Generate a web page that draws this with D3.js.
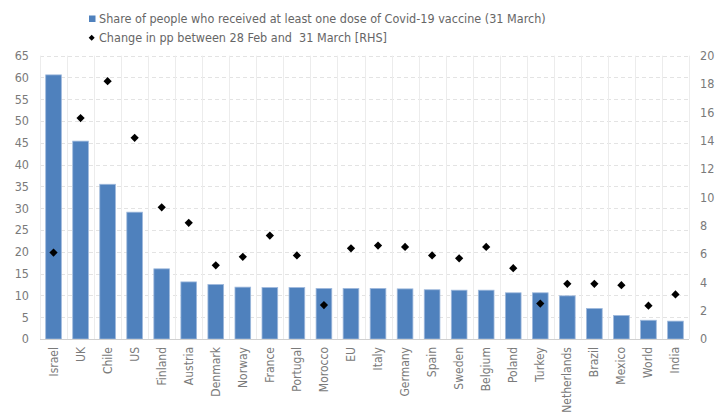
<!DOCTYPE html>
<html>
<head>
<meta charset="utf-8">
<script src="https://cdn.jsdelivr.net/npm/d3@7/dist/d3.min.js"></script>
<style>
  html, body { margin: 0; padding: 0; background: #fff; }
  svg { display: block; }
  text { font-family: "Liberation Sans Narrow", "DejaVu Sans Condensed", "Open Sans", sans-serif; fill: #7a7a7a; white-space: pre; }
  text.lg { fill: #666; }
</style>
</head>
<body>
<svg id="chart" width="723" height="412"></svg>
<script>
// Countries, ordered by share of population with at least one dose
const countries = ["Israel", "UK", "Chile", "US", "Finland", "Austria", "Denmark", "Norway",
  "France", "Portugal", "Morocco", "EU", "Italy", "Germany", "Spain", "Sweden", "Belgium",
  "Poland", "Turkey", "Netherlands", "Brazil", "Mexico", "World", "India"];

// Share of people who received at least one dose (%), 31 March
const shareOneDose = [60.6, 45.4, 35.5, 29.1, 16.1, 13.1, 12.5, 11.9,
  11.8, 11.8, 11.6, 11.6, 11.6, 11.5, 11.3, 11.2, 11.2,
  10.6, 10.6, 9.9, 7.0, 5.4, 4.3, 4.1];

// Change in percentage points between 28 Feb and 31 March (right-hand scale)
const changePP = [6.1, 15.6, 18.2, 14.2, 9.3, 8.2, 5.2, 5.8,
  7.3, 5.9, 2.4, 6.4, 6.6, 6.5, 5.9, 5.7, 6.5,
  5.0, 2.5, 3.9, 3.9, 3.8, 2.35, 3.15];

const leftTicks = d3.range(0, 66, 5);
const rightTicks = d3.range(0, 21, 2);

const legendLabels = [
  "Share of people who received at least one dose of Covid-19 vaccine (31 March)",
  "Change in pp between 28 Feb and  31 March [RHS]"
];

const svg = d3.select("#chart");
const plot = { left: 40, right: 689, top: 55.7, bottom: 339 };

const xCat = d3.scaleBand().domain(countries).range([plot.left, plot.right]).padding(0);
const xBar = d3.scaleBand().domain(countries).range([plot.left, plot.right])
  .paddingInner(0.42).paddingOuter(0.21);
const yL = d3.scaleLinear().domain([0, 65]).range([plot.bottom, plot.top]);
const yR = d3.scaleLinear().domain([0, 20]).range([plot.bottom, plot.top]);

// Horizontal dashed gridlines
svg.append("g").selectAll("line").data(leftTicks.filter(d => d > 0)).join("line")
  .attr("x1", plot.left).attr("x2", plot.right)
  .attr("y1", d => Math.round(yL(d)) + 0.5).attr("y2", d => Math.round(yL(d)) + 0.5)
  .attr("stroke", "#e3e3e3").attr("stroke-width", 1).attr("stroke-dasharray", "4,3");

// Vertical gridlines at category boundaries
const bounds = countries.map(c => xCat(c)).concat([plot.right]);
svg.append("g").selectAll("line").data(bounds).join("line")
  .attr("x1", d => Math.round(d) + 0.5).attr("x2", d => Math.round(d) + 0.5)
  .attr("y1", plot.top).attr("y2", plot.bottom)
  .attr("stroke", "#ececec").attr("stroke-width", 1);

// Bars
svg.append("g").selectAll("rect").data(countries).join("rect")
  .attr("x", d => xBar(d))
  .attr("width", xBar.bandwidth())
  .attr("y", (d, i) => yL(shareOneDose[i]))
  .attr("height", (d, i) => plot.bottom - yL(shareOneDose[i]))
  .attr("fill", "#4f81bd")
  .attr("stroke", "#9fb9dc").attr("stroke-width", 0.8);

// Category axis line
svg.append("line")
  .attr("x1", plot.left).attr("x2", plot.right)
  .attr("y1", plot.bottom + 0.5).attr("y2", plot.bottom + 0.5)
  .attr("stroke", "#d0d0d0").attr("stroke-width", 1);

// Diamonds on the right-hand scale
const diamond = d3.symbol().type(d3.symbolSquare).size(34);
svg.append("g").selectAll("path").data(countries).join("path")
  .attr("d", diamond)
  .attr("transform", (d, i) =>
    `translate(${xCat(d) + xCat.bandwidth() / 2},${yR(changePP[i])}) rotate(45)`)
  .attr("fill", "#000");

// Left axis labels
svg.append("g").selectAll("text").data(leftTicks).join("text")
  .attr("x", 29).attr("y", d => yL(d))
  .attr("dy", "0.35em").attr("text-anchor", "end")
  .attr("font-size", 12.5)
  .text(d => d);

// Right axis labels
svg.append("g").selectAll("text").data(rightTicks).join("text")
  .attr("x", 700).attr("y", d => yR(d))
  .attr("dy", "0.35em").attr("text-anchor", "start")
  .attr("font-size", 12.5)
  .text(d => d);

// Rotated category labels
svg.append("g").selectAll("text").data(countries).join("text")
  .attr("transform", d => `translate(${xCat(d) + xCat.bandwidth() / 2 + 4},347) rotate(-90)`)
  .attr("text-anchor", "end")
  .attr("font-size", 12)
  .text(d => d);

// Legend
const legend = svg.append("g");
legend.append("rect").attr("x", 89).attr("y", 15.5).attr("width", 6.5).attr("height", 6.5)
  .attr("fill", "#4f81bd");
legend.append("path").attr("d", d3.symbol().type(d3.symbolSquare).size(18))
  .attr("transform", "translate(91.7,37.7) rotate(45)").attr("fill", "#000");
legend.selectAll("text.lg").data(legendLabels).join("text")
  .attr("class", "lg")
  .attr("x", 99).attr("y", (d, i) => 18.3 + i * 19)
  .attr("dy", "0.35em")
  .attr("font-size", 12.5)
  .text(d => d);
</script>
</body>
</html>
